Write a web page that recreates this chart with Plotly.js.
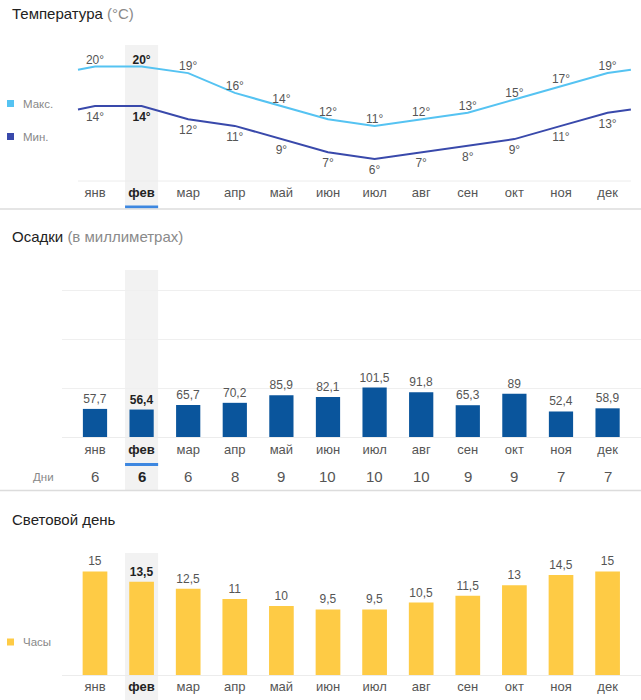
<!DOCTYPE html>
<html>
<head>
<meta charset="utf-8">
<script src="https://cdn.plot.ly/plotly-3.0.1.min.js"></script>
<style>html,body{margin:0;padding:0;background:#fff;}#chart{width:641px;height:700px;}</style>
</head>
<body>
<div id="chart"></div>
<script>
const months = ['янв','фев','мар','апр','май','июн','июл','авг','сен','окт','ноя','дек'];
const tempMax = [20,20,19,16,14,12,11,12,13,15,17,19];
const tempMin = [14,14,12,11,9,7,6,7,8,9,11,13];
const precip = [57.7,56.4,65.7,70.2,85.9,82.1,101.5,91.8,65.3,89,52.4,58.9];
const rainDays = [6,6,6,8,9,10,10,10,9,9,7,7];
const daylight = [15,13.5,12.5,11,10,9.5,9.5,10.5,11.5,13,14.5,15];
const selected = 1; // фев

const W = 641, H = 700;
const py = p => 1 - p / H;
const FONT = 'Liberation Sans, Arial, sans-serif';
const cMax = '#55c3f2', cMin = '#3949ab', cRain = '#0a559c', cSun = '#fecb45';
const idx = months.map((_, i) => i);
const fmt = v => String(v).replace('.', ',');
const boldIf = (s, i) => i === selected ? '<b>' + s + '</b>' : s;
const txtColors = idx.map(i => i === selected ? '#222' : '#555');

// wrapped line ends (between дек and янв)
const edgeL = -0.365, edgeR = 11.5;
const wrapMax = (tempMax[0] + tempMax[11]) / 2;
const wrapMin = (tempMin[0] + tempMin[11]) / 2;

const traces = [
  {x: [edgeL, ...idx, edgeR], y: [wrapMax, ...tempMax, wrapMax], mode: 'lines', line: {color: cMax, width: 2}, xaxis: 'x', yaxis: 'y', hoverinfo: 'skip', cliponaxis: false},
  {x: [edgeL, ...idx, edgeR], y: [wrapMin, ...tempMin, wrapMin], mode: 'lines', line: {color: cMin, width: 2}, xaxis: 'x', yaxis: 'y', hoverinfo: 'skip', cliponaxis: false},
  {x: idx, y: tempMax, mode: 'text', text: tempMax.map((v, i) => boldIf(v + '°', i)), textposition: 'top center', textfont: {family: FONT, size: 12, color: txtColors}, xaxis: 'x', yaxis: 'y', cliponaxis: false},
  {x: idx, y: tempMin, mode: 'markers+text', marker: {size: 8, color: 'rgba(0,0,0,0)'}, text: tempMin.map((v, i) => boldIf(v + '°', i)), textposition: 'bottom center', textfont: {family: FONT, size: 12, color: txtColors}, xaxis: 'x', yaxis: 'y', cliponaxis: false},
  {type: 'bar', x: idx, y: precip, width: 0.52, marker: {color: cRain}, text: precip.map((v, i) => boldIf(fmt(v), i)), textposition: 'outside', constraintext: 'none', textfont: {family: FONT, size: 12, color: txtColors}, xaxis: 'x2', yaxis: 'y2', cliponaxis: false},
  {type: 'bar', x: idx, y: daylight, width: 0.53, marker: {color: cSun}, text: daylight.map((v, i) => boldIf(fmt(v), i)), textposition: 'outside', constraintext: 'none', textfont: {family: FONT, size: 12, color: txtColors}, xaxis: 'x3', yaxis: 'y3', cliponaxis: false}
];

const xRange = [-0.708, 11.717];
const xDomain = [62 / W, 1];
const tickText = months.map((m, i) => i === selected ? '<b><span style="color:#222">' + m + '</span></b>' : m);
const xa = (anchor, standoff) => ({domain: xDomain, range: xRange, anchor: anchor, tickvals: idx, ticktext: tickText, showgrid: false, zeroline: false, showline: false, ticks: '', ticklabelstandoff: standoff, tickfont: {family: FONT, size: 13, color: '#555'}, fixedrange: true});

const shapes = [];
const hl = (top, bottom, underline) => {
  shapes.push({type: 'rect', xref: 'x', yref: 'paper', x0: selected - 0.355, x1: selected + 0.355, y0: py(bottom), y1: py(top), fillcolor: '#f2f2f2', line: {width: 0}, layer: 'below'});
  shapes.push({type: 'rect', xref: 'x', yref: 'paper', x0: selected - 0.355, x1: selected + 0.355, y0: py(underline + 3), y1: py(underline), fillcolor: '#3d87e0', line: {width: 0}, layer: 'above'});
};
hl(45, 208, 205.5);
hl(270, 490, 463);
shapes.push({type: 'rect', xref: 'x', yref: 'paper', x0: selected - 0.355, x1: selected + 0.355, y0: 0, y1: py(553), fillcolor: '#f2f2f2', line: {width: 0}, layer: 'below'});
// temperature base line
shapes.push({type: 'line', xref: 'x', yref: 'paper', x0: edgeL, x1: edgeR, y0: py(181), y1: py(181), line: {color: '#ececec', width: 1}, layer: 'below'});
// separators
[209, 490.5].forEach(p => shapes.push({type: 'line', xref: 'paper', yref: 'paper', x0: 0, x1: 1, y0: py(p), y1: py(p), line: {color: '#dcdcdc', width: 1.5}}));
// legend squares
[[103.5, cMax], [136.5, cMin], [642, cSun]].forEach(([p, c]) => shapes.push({type: 'rect', xref: 'paper', yref: 'paper', x0: 7 / W, x1: 14 / W, y0: py(p + 3.5), y1: py(p - 3.5), fillcolor: c, line: {width: 0}}));

const ann = [];
const title = (p, main, sub) => ann.push({xref: 'paper', yref: 'paper', x: 10 / W, y: py(p), xanchor: 'left', yanchor: 'middle', showarrow: false, text: main + (sub ? ' <span style="color:#8a8a8a">' + sub + '</span>' : ''), font: {family: FONT, size: 15, color: '#222'}});
title(13, 'Температура', '(°C)');
title(237, 'Осадки', '(в миллиметрах)');
title(519, 'Световой день', '');
const leg = (p, t) => ann.push({xref: 'paper', yref: 'paper', x: 21 / W, y: py(p), xanchor: 'left', yanchor: 'middle', showarrow: false, text: t, font: {family: FONT, size: 11.5, color: '#888'}});
leg(103.5, 'Макс.');
leg(136.5, 'Мин.');
leg(642, 'Часы');
ann.push({xref: 'paper', yref: 'paper', x: 43 / W, y: py(477), xanchor: 'center', yanchor: 'middle', showarrow: false, text: 'Дни', font: {family: FONT, size: 11.5, color: '#888'}});
rainDays.forEach((d, i) => ann.push({xref: 'x2', yref: 'paper', x: i, y: py(477), xanchor: 'center', yanchor: 'middle', showarrow: false, text: boldIf(String(d), i), font: {family: FONT, size: 15, color: txtColors[i]}}));

const layout = {
  width: W, height: H, margin: {l: 0, r: 0, t: 0, b: 0},
  paper_bgcolor: '#fff', plot_bgcolor: 'rgba(0,0,0,0)', showlegend: false,
  font: {family: FONT},
  xaxis: xa('y', 2), xaxis2: xa('y2', 3), xaxis3: xa('y3', 2),
  yaxis: {domain: [py(181), py(50)], range: [2.65, 22.5], visible: false, fixedrange: true},
  yaxis2: {domain: [py(437), py(270)], range: [0, 343], dtick: 100, showticklabels: false, ticks: '', gridcolor: '#efefef', zeroline: true, zerolinecolor: '#ececec', fixedrange: true},
  yaxis3: {domain: [py(675), py(548)], range: [0, 18.4], showgrid: false, showticklabels: false, ticks: '', zeroline: true, zerolinecolor: '#ececec', fixedrange: true},
  shapes: shapes, annotations: ann
};
Plotly.newPlot('chart', traces, layout, {displayModeBar: false, staticPlot: true});
</script>
</body>
</html>
